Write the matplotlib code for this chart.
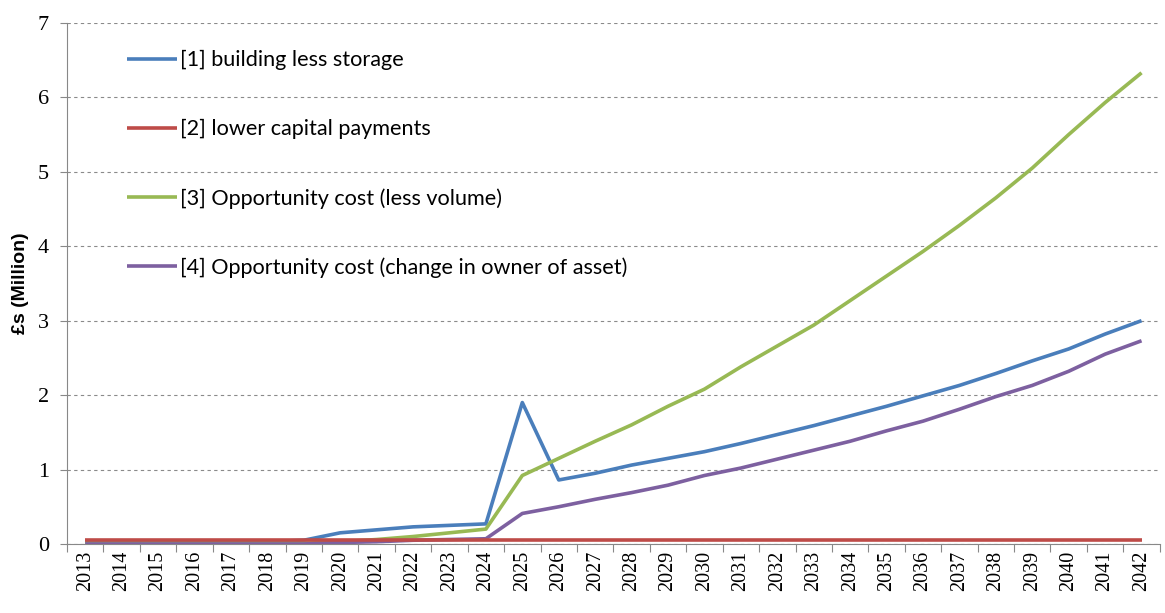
import numpy as np
import matplotlib.pyplot as plt
from matplotlib.ticker import FixedLocator, NullFormatter

years = [str(y) for y in range(2013, 2043)]

building_less_storage = [0.03, 0.03, 0.03, 0.03, 0.03, 0.03, 0.05, 0.15, 0.19, 0.23,
                         0.25, 0.27, 1.90, 0.86, 0.95, 1.06, 1.15, 1.24, 1.35, 1.47,
                         1.59, 1.72, 1.85, 1.99, 2.13, 2.29, 2.46, 2.62, 2.82, 3.00]
lower_capital = [0.05] * 30
opp_less_volume = [0.01, 0.01, 0.01, 0.01, 0.01, 0.01, 0.01, 0.03, 0.06, 0.10,
                   0.15, 0.20, 0.92, 1.15, 1.38, 1.60, 1.85, 2.08, 2.38, 2.66,
                   2.94, 3.27, 3.60, 3.93, 4.28, 4.65, 5.05, 5.50, 5.93, 6.33]
opp_owner = [0.0, 0.0, 0.0, 0.0, 0.0, 0.0, 0.0, 0.02, 0.03, 0.05,
             0.06, 0.07, 0.41, 0.50, 0.60, 0.69, 0.79, 0.92, 1.02, 1.14,
             1.26, 1.38, 1.52, 1.65, 1.81, 1.98, 2.13, 2.32, 2.55, 2.73]

labels = ["[1] building less storage",
          "[2] lower capital payments",
          "[3] Opportunity cost (less volume)",
          "[4] Opportunity cost (change in owner of asset)"]
colors = ["#4A7EBB", "#BE4B48", "#98B954", "#7D60A0"]

fig = plt.figure(figsize=(11.65, 6.13), dpi=100)
ax = fig.add_axes([0.0575, 0.1126, 0.938, 0.85])

x = np.arange(len(years))
series = [building_less_storage, lower_capital, opp_less_volume, opp_owner]
# red line sits on top of the near-zero values
order = [0, 2, 3, 1]
lines = {}
for i in order:
    lines[i], = ax.plot(x, series[i], color=colors[i], lw=2.6, label=labels[i],
                        solid_capstyle='butt', zorder=3)

ax.set_xlim(-0.5, len(years) - 0.5)
ax.set_ylim(0, 7)
ax.set_yticks(range(0, 8))
ax.tick_params(axis='y', labelsize=16, length=5, color='#888888', pad=8)
for t in ax.get_yticklabels():
    t.set_family('Liberation Serif')

ax.xaxis.set_major_locator(FixedLocator(np.arange(-0.5, len(years), 1.0)))
ax.xaxis.set_major_formatter(NullFormatter())
ax.xaxis.set_minor_locator(FixedLocator(x))
ax.set_xticklabels(years, minor=True, rotation=90, fontsize=14.5, family='Liberation Serif')
ax.tick_params(axis='x', which='major', length=6, color='#888888')
ax.tick_params(axis='x', which='minor', length=0, pad=5)

ax.yaxis.grid(True, linestyle=(0, (3, 3)), color='#8a8a8a', lw=0.8)
ax.set_axisbelow(True)
for s in ['top', 'right']:
    ax.spines[s].set_visible(False)
for s in ['left', 'bottom']:
    ax.spines[s].set_color('#888888')

ax.set_ylabel("£s (Million)", fontsize=14, fontweight='bold', family='Liberation Sans', labelpad=6)

ax.legend([lines[i] for i in range(4)], labels, loc='upper left', bbox_to_anchor=(0.037, 0.985),
          frameon=False, handlelength=2.3, handletextpad=0.15, labelspacing=2.25,
          prop={'family': 'Lato', 'size': 15.6})

fig.savefig("out.png", dpi=100, facecolor='white')
